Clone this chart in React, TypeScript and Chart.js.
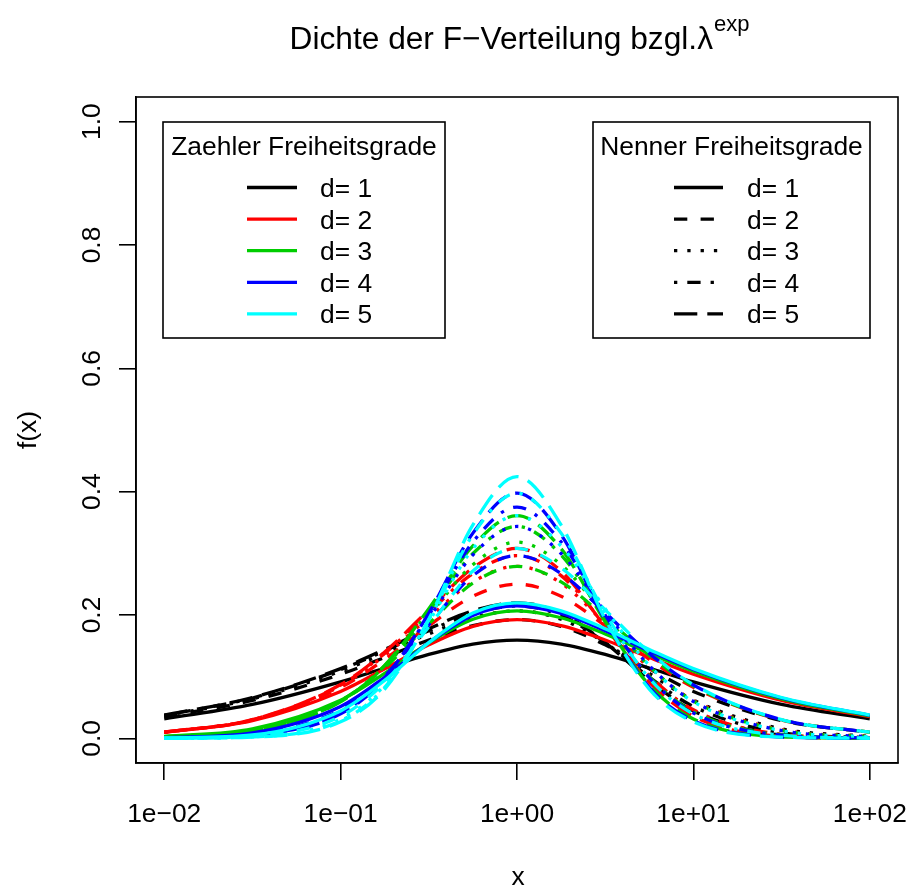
import React, { useEffect, useRef } from "react";
import { Chart, registerables } from "chart.js";

Chart.register(...registerables);

// x positions (log-spaced) at which densities were read
const xValues = [0.01, 0.03162, 0.1, 0.1778, 0.3162, 0.5623, 1, 1.778, 3.162, 5.623, 10, 31.62, 100];

const xTickValues = [0.01, 0.1, 1, 10, 100];
const xTickLabels = ["1e\u221202", "1e\u221201", "1e+00", "1e+01", "1e+02"];
const yTickValues = [0, 0.2, 0.4, 0.6, 0.8, 1.0];
const yTickLabels = ["0.0", "0.2", "0.4", "0.6", "0.8", "1.0"];

const zaehlerColors = ["#000000", "#FF0000", "#00CD00", "#0000FF", "#00FFFF"];
const nennerDashes = [[], [13.3, 13.3], [3.3, 10], [3.3, 10, 13.3, 10], [23.3, 10]];
const legendLabels = ["d= 1", "d= 2", "d= 3", "d= 4", "d= 5"];

// Zaehler d=1, rows: Nenner d=1..5
const zaehler1 = [
  [0.0315, 0.0549, 0.0915, 0.114, 0.136, 0.1528, 0.1592, 0.1528, 0.136, 0.114, 0.0915, 0.0549, 0.0315],
  [0.0351, 0.0614, 0.1039, 0.1312, 0.1595, 0.1828, 0.1925, 0.1816, 0.1516, 0.1127, 0.0761, 0.0288, 0.0097],
  [0.0365, 0.064, 0.1089, 0.1381, 0.1692, 0.1955, 0.2067, 0.1932, 0.1549, 0.1055, 0.0619, 0.0155, 0.0031],
  [0.0373, 0.0654, 0.1115, 0.1418, 0.1744, 0.2024, 0.2147, 0.1994, 0.1554, 0.0991, 0.0517, 0.0089, 0.0011],
  [0.0377, 0.0662, 0.1131, 0.1441, 0.1776, 0.2068, 0.2197, 0.2032, 0.1552, 0.0939, 0.0445, 0.0054, 0.0004],
];
// Zaehler d=2
const zaehler2 = [
  [0.0097, 0.0288, 0.0761, 0.1127, 0.1516, 0.1816, 0.1925, 0.1828, 0.1595, 0.1312, 0.1039, 0.0614, 0.0351],
  [0.0098, 0.0297, 0.0826, 0.1282, 0.1825, 0.2304, 0.25, 0.2304, 0.1825, 0.1282, 0.0826, 0.0297, 0.0098],
  [0.0098, 0.03, 0.0851, 0.1344, 0.196, 0.2537, 0.2789, 0.2518, 0.1857, 0.1144, 0.0614, 0.0138, 0.0027],
  [0.0099, 0.0302, 0.0864, 0.1377, 0.2036, 0.2674, 0.2963, 0.2638, 0.1839, 0.1015, 0.0463, 0.0067, 0.0008],
  [0.0099, 0.0303, 0.0872, 0.1398, 0.2084, 0.2764, 0.308, 0.2712, 0.1809, 0.0909, 0.0358, 0.0034, 0.0002],
];
// Zaehler d=3
const zaehler3 = [
  [0.0031, 0.0155, 0.0619, 0.1055, 0.1549, 0.1932, 0.2067, 0.1955, 0.1692, 0.1381, 0.1089, 0.064, 0.0365],
  [0.0027, 0.0138, 0.0614, 0.1144, 0.1857, 0.2518, 0.2789, 0.2537, 0.196, 0.1344, 0.0851, 0.03, 0.0098],
  [0.0025, 0.013, 0.0605, 0.1169, 0.1986, 0.2816, 0.3183, 0.2816, 0.1986, 0.1169, 0.0605, 0.013, 0.0025],
  [0.0024, 0.0126, 0.0598, 0.1178, 0.2056, 0.2997, 0.3436, 0.2975, 0.1946, 0.1001, 0.043, 0.0058, 0.0006],
  [0.0023, 0.0123, 0.0593, 0.1183, 0.2101, 0.312, 0.3612, 0.3075, 0.1889, 0.0862, 0.0312, 0.0026, 0.0002],
];
// Zaehler d=4
const zaehler4 = [
  [0.0011, 0.0089, 0.0517, 0.0991, 0.1554, 0.1994, 0.2147, 0.2024, 0.1744, 0.1418, 0.1115, 0.0654, 0.0373],
  [0.0008, 0.0067, 0.0463, 0.1015, 0.1839, 0.2638, 0.2963, 0.2674, 0.2036, 0.1377, 0.0864, 0.0302, 0.0099],
  [0.0006, 0.0058, 0.043, 0.1001, 0.1946, 0.2975, 0.3436, 0.2997, 0.2056, 0.1178, 0.0598, 0.0126, 0.0024],
  [0.0006, 0.0053, 0.041, 0.0986, 0.1999, 0.3185, 0.375, 0.3185, 0.1999, 0.0986, 0.041, 0.0053, 0.0006],
  [0.0005, 0.005, 0.0396, 0.0973, 0.203, 0.3328, 0.3976, 0.3303, 0.192, 0.0826, 0.0285, 0.0023, 0.0001],
];
// Zaehler d=5
const zaehler5 = [
  [0.0004, 0.0054, 0.0445, 0.0939, 0.1552, 0.2032, 0.2197, 0.2068, 0.1776, 0.1441, 0.1131, 0.0662, 0.0377],
  [0.0002, 0.0034, 0.0358, 0.0909, 0.1809, 0.2712, 0.308, 0.2764, 0.2084, 0.1398, 0.0872, 0.0303, 0.0099],
  [0.0002, 0.0026, 0.0312, 0.0862, 0.1889, 0.3075, 0.3612, 0.312, 0.2101, 0.1183, 0.0593, 0.0123, 0.0023],
  [0.0001, 0.0023, 0.0285, 0.0826, 0.192, 0.3303, 0.3976, 0.3328, 0.203, 0.0973, 0.0396, 0.005, 0.0005],
  [0.0001, 0.0021, 0.0267, 0.0799, 0.1933, 0.346, 0.4244, 0.346, 0.1933, 0.0799, 0.0267, 0.0021, 0.0001],
];

const FONT = "'Liberation Sans', Arial, Helvetica, sans-serif";
const BASE = 26.4;
const TITLE_MAIN = "Dichte der F\u2212Verteilung bzgl.\u03bb";
const TITLE_SUP = "exp";
const X_TITLE = "x";
const Y_TITLE = "f(x)";
const LEGEND_LEFT_TITLE = "Zaehler Freiheitsgrade";
const LEGEND_RIGHT_TITLE = "Nenner Freiheitsgrade";

const decorPlugin = {
  id: "decor",
  afterDraw(chart: any) {
    const ctx = chart.ctx as CanvasRenderingContext2D;
    const a = chart.chartArea;
    const xs = chart.scales.x;
    const ys = chart.scales.y;
    const cx = (a.left + a.right) / 2;
    ctx.save();
    // frame
    ctx.strokeStyle = "#000";
    ctx.lineWidth = 1.6;
    ctx.setLineDash([]);
    ctx.strokeRect(a.left, a.top, a.right - a.left, a.bottom - a.top);

    ctx.fillStyle = "#000";
    ctx.font = `${BASE}px ${FONT}`;
    ctx.textAlign = "center";
    ctx.textBaseline = "alphabetic";
    xTickValues.forEach((v, i) => {
      ctx.fillText(xTickLabels[i], xs.getPixelForValue(v), a.bottom + 59);
    });
    yTickValues.forEach((v, i) => {
      ctx.save();
      ctx.translate(a.left - 36, ys.getPixelForValue(v));
      ctx.rotate(-Math.PI / 2);
      ctx.fillText(yTickLabels[i], 0, 0);
      ctx.restore();
    });
    ctx.fillText(X_TITLE, cx + 1, 885);
    ctx.save();
    ctx.translate(36, (a.top + a.bottom) / 2);
    ctx.rotate(-Math.PI / 2);
    ctx.fillText(Y_TITLE, 0, 0);
    ctx.restore();

    // title with superscript
    const tSize = BASE * 1.2;
    const sSize = 22;
    ctx.font = `${tSize}px ${FONT}`;
    const w1 = ctx.measureText(TITLE_MAIN).width;
    ctx.font = `${sSize}px ${FONT}`;
    const w2 = ctx.measureText(TITLE_SUP).width;
    const x0 = cx + 2 - (w1 + w2) / 2;
    ctx.textAlign = "left";
    ctx.font = `${tSize}px ${FONT}`;
    ctx.fillText(TITLE_MAIN, x0, 49);
    ctx.font = `${sSize}px ${FONT}`;
    ctx.fillText(TITLE_SUP, x0 + w1 + 1, 31);

    // legends
    const boxTop = a.top + 25;
    const boxH = 216;
    const drawLegend = (bx: number, bw: number, title: string, lineX1: number, lineX2: number, textX: number, styleFor: (i: number) => { color: string; dash: number[] }) => {
      ctx.fillStyle = "#fff";
      ctx.fillRect(bx, boxTop, bw, boxH);
      ctx.strokeStyle = "#000";
      ctx.lineWidth = 1.6;
      ctx.setLineDash([]);
      ctx.strokeRect(bx, boxTop, bw, boxH);
      ctx.fillStyle = "#000";
      ctx.font = `${BASE}px ${FONT}`;
      ctx.textAlign = "center";
      ctx.fillText(title, bx + bw / 2, boxTop + 33);
      ctx.textAlign = "left";
      legendLabels.forEach((lab, i) => {
        const by = boxTop + 75 + i * 31.6;
        const st = styleFor(i);
        ctx.strokeStyle = st.color;
        ctx.lineWidth = 3.3;
        ctx.lineCap = "butt";
        ctx.setLineDash(st.dash);
        ctx.beginPath();
        ctx.moveTo(lineX1, by - 9.5);
        ctx.lineTo(lineX2, by - 9.5);
        ctx.stroke();
        ctx.setLineDash([]);
        ctx.fillStyle = "#000";
        ctx.fillText(lab, textX, by);
      });
    };
    drawLegend(a.left + 27, 282, LEGEND_LEFT_TITLE, 247, 297, 320, (i) => ({ color: zaehlerColors[i], dash: [] }));
    drawLegend(a.right - 305, 277, LEGEND_RIGHT_TITLE, 674, 723, 747, (i) => ({ color: "#000", dash: nennerDashes[i] }));
    ctx.restore();
  },
};

export default function App() {
  const ref = useRef<HTMLCanvasElement | null>(null);
  useEffect(() => {
    if (!ref.current) return;
    const groups = [zaehler1, zaehler2, zaehler3, zaehler4, zaehler5];
    const datasets: any[] = [];
    let idx = 0;
    groups.forEach((rows, d1) => {
      rows.forEach((vals, d2) => {
        datasets.push({
          label: `Zaehler ${d1 + 1} / Nenner ${d2 + 1}`,
          data: xValues.map((x, k) => ({ x, y: vals[k] })),
          borderColor: zaehlerColors[d1],
          backgroundColor: zaehlerColors[d1],
          borderDash: nennerDashes[d2],
          borderWidth: 3.3,
          borderCapStyle: "butt",
          pointRadius: 0,
          fill: false,
          tension: 0.4,
          cubicInterpolationMode: "monotone",
          order: 100 - idx,
        });
        idx++;
      });
    });
    const tickGrid = { drawOnChartArea: false, drawTicks: true, tickLength: 17, color: "#000", lineWidth: 1.6 };
    const chart = new Chart(ref.current, {
      type: "line",
      data: { datasets },
      plugins: [decorPlugin],
      options: {
        animation: false,
        responsive: false,
        devicePixelRatio: 1,
        layout: { padding: { left: 0, right: 14, top: 97, bottom: 0 } },
        plugins: { legend: { display: false }, title: { display: false }, tooltip: { enabled: false } },
        scales: {
          x: {
            type: "logarithmic",
            min: Math.pow(10, -2.16),
            max: Math.pow(10, 2.16),
            afterBuildTicks: (s: any) => {
              s.ticks = xTickValues.map((v) => ({ value: v }));
            },
            afterFit: (s: any) => {
              s.height = 128;
            },
            ticks: { display: false },
            grid: tickGrid,
            border: { display: true, color: "#000", width: 1.6 },
          },
          y: {
            type: "linear",
            min: -0.04,
            max: 1.04,
            afterBuildTicks: (s: any) => {
              s.ticks = yTickValues.map((v) => ({ value: v }));
            },
            afterFit: (s: any) => {
              s.width = 136;
            },
            ticks: { display: false },
            grid: tickGrid,
            border: { display: true, color: "#000", width: 1.6 },
          },
        },
      } as any,
    });
    return () => chart.destroy();
  }, []);
  return (
    <div style={{ position: "absolute", left: 0, top: 0, width: 912, height: 891, background: "#fff" }}>
      <canvas ref={ref} width={912} height={891} style={{ width: 912, height: 891 }} />
    </div>
  );
}
